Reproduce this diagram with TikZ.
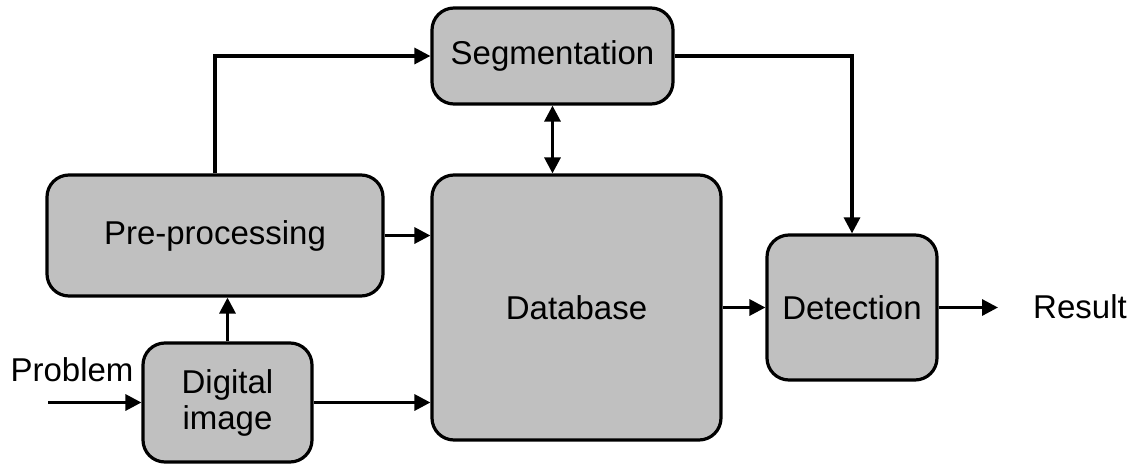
\documentclass[tikz,border=0pt]{standalone}
\usepackage{fontspec}
\setmainfont{Liberation Sans}
\usetikzlibrary{arrows.meta}

\begin{document}
\begin{tikzpicture}[x=1pt,y=-1pt,
  blockbox/.style={draw=black, line width=3.2pt, fill=boxgray, rounded corners=22pt,
    inner sep=0pt, align=center, font=\fontsize{33}{36}\selectfont},
  conn/.style={line width=3.2pt, -{Triangle[length=16pt,width=16pt]}},
  biconn/.style={line width=3.2pt, {Triangle[length=16pt,width=16pt]}-{Triangle[length=16pt,width=16pt]}},
  plain/.style={inner sep=0pt, font=\fontsize{33}{36}\selectfont}]
\definecolor{boxgray}{RGB}{192,192,192}
\useasboundingbox (0,0) rectangle (1136,466);

% blocks
\node[blockbox, minimum width=241pt, minimum height=96pt]  (seg) at (552.5,56)    {Segmentation};
\node[blockbox, minimum width=336pt, minimum height=121pt] (pre) at (215,235.5)   {Pre-processing};
\node[blockbox, minimum width=289pt, minimum height=265pt] (db)  at (576.5,307.5) {Database};
\node[blockbox, minimum width=169pt, minimum height=119pt] (dig) at (227.5,402.5) {Digital\\image};
\node[blockbox, minimum width=170pt, minimum height=145pt] (det) at (852,307.5)   {Detection};

% labels
\node[plain] (prob) at (72,370) {Problem};
\node[plain] (res)  at (1080,307) {Result};

\coordinate (inp) at (48,402.5);
\coordinate (outp) at (998,307.5);

% connectors
\draw[conn] (inp) -- (dig.west);
\draw[conn] (dig.east) -- (dig.east -| db.west);
\draw[conn] (dig.north) -- (dig.north |- pre.south);
\draw[conn] (pre.east) -- (pre.east -| db.west);
\draw[conn] (pre.north) |- (seg.west);
\draw[biconn] (seg.south) -- (seg.south |- db.north);
\draw[conn] (seg.east) -| (det.north);
\draw[conn] (db.east |- det.west) -- (det.west);
\draw[conn] (det.east) -- (outp);
\end{tikzpicture}
\end{document}
